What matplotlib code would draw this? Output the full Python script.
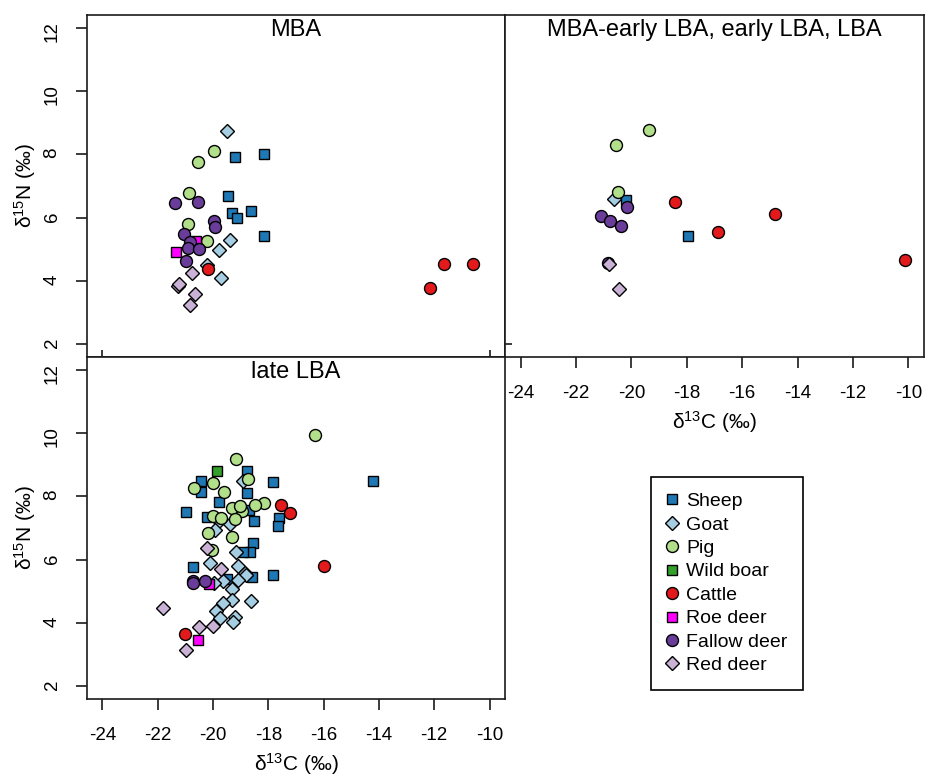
import matplotlib
matplotlib.use('Agg')
import matplotlib.pyplot as plt
from matplotlib.lines import Line2D

plt.rcParams['font.family'] = ['Liberation Sans', 'DejaVu Sans']
plt.rcParams['mathtext.default'] = 'regular'
plt.rcParams['axes.unicode_minus'] = False

species = ['Sheep', 'Goat', 'Pig', 'Wild boar', 'Cattle', 'Roe deer', 'Fallow deer', 'Red deer']
markers = ['s', 'D', 'o', 's', 'o', 's', 'o', 'D']
fills = ['#1F78B4', '#A6CEE3', '#B2DF8A', '#33A02C', '#E31A1C', '#FF00FF', '#6A3D9A', '#CAB2D6']
sizes = {'s': 7.8, 'D': 7.6, 'o': 8.6}

# (d13C, d15N) per species, per period
mba = {
    'Sheep': ([-19.22, -18.14, -19.47, -19.31, -19.14, -18.61, -18.17],
              [7.93, 8.00, 6.70, 6.15, 6.00, 6.21, 5.43]),
    'Goat': ([-19.51, -19.39, -19.80, -20.23, -19.71],
             [8.74, 5.30, 4.98, 4.51, 4.09]),
    'Pig': ([-19.96, -20.53, -20.88, -20.91, -20.23],
            [8.12, 7.76, 6.77, 5.80, 5.27]),
    'Wild boar': ([], []),
    'Cattle': ([-20.17, -11.63, -10.58, -12.17],
               [4.38, 4.55, 4.55, 3.78]),
    'Roe deer': ([-20.62, -21.34], [5.27, 4.91]),
    'Fallow deer': ([-21.38, -20.53, -19.96, -19.92, -21.04, -20.83, -20.92, -20.52, -20.97],
                    [6.47, 6.49, 5.91, 5.71, 5.50, 5.23, 5.04, 5.02, 4.62]),
    'Red deer': ([-20.77, -21.28, -21.22, -20.64, -20.83],
                 [4.25, 3.85, 3.92, 3.60, 3.23]),
}

mid_lba = {
    'Sheep': ([-20.21, -17.94], [6.56, 5.42]),
    'Goat': ([-20.64], [6.58]),
    'Pig': ([-19.35, -20.57, -20.49], [8.77, 8.28, 6.82]),
    'Wild boar': ([], []),
    'Cattle': ([-18.44, -16.89, -14.83, -10.14], [6.50, 5.56, 6.13, 4.65]),
    'Roe deer': ([], []),
    'Fallow deer': ([-20.15, -21.08, -20.78, -20.38, -20.85],
                    [6.35, 6.04, 5.89, 5.75, 4.58]),
    'Red deer': ([-20.82, -20.45], [4.53, 3.74]),
}

late_lba = {
    'Sheep': ([-14.22, -18.79, -17.85, -20.45, -20.43, -18.79, -19.79, -20.98, -18.70,
               -18.52, -17.61, -17.65, -20.23, -18.55, -18.67, -18.91, -20.71, -18.60,
               -17.85, -19.50],
              [8.49, 8.81, 8.44, 8.48, 8.14, 8.10, 7.81, 7.52, 7.58,
               7.21, 7.32, 7.06, 7.35, 6.53, 6.24, 6.25, 5.76, 5.46,
               5.52, 5.40]),
    'Goat': ([-18.93, -19.80, -19.93, -19.37, -19.18, -20.11, -19.09, -18.85, -18.81,
              -19.09, -19.65, -19.97, -19.33, -19.32, -18.61, -19.65, -19.90, -19.75,
              -19.21, -19.27],
             [8.50, 7.21, 6.95, 7.12, 6.23, 5.90, 5.80, 5.59, 5.53,
              5.35, 5.33, 5.25, 5.08, 4.74, 4.69, 4.64, 4.37, 4.17,
              4.20, 4.03]),
    'Pig': ([-16.33, -19.18, -18.75, -20.01, -20.68, -19.60, -18.15, -18.47, -18.94,
             -19.30, -19.03, -19.99, -19.70, -19.22, -20.18, -19.32, -20.05],
            [9.94, 9.19, 8.56, 8.42, 8.27, 8.13, 7.79, 7.74, 7.54,
             7.64, 7.71, 7.38, 7.32, 7.28, 6.85, 6.72, 6.32]),
    'Wild boar': ([-19.85], [8.81]),
    'Cattle': ([-17.56, -17.22, -16.00, -21.01], [7.72, 7.47, 5.80, 3.64]),
    'Roe deer': ([-20.14, -20.53], [5.22, 3.46]),
    'Fallow deer': ([-20.74, -20.71, -20.29], [5.32, 5.25, 5.34]),
    'Red deer': ([-20.23, -19.73, -21.82, -20.01, -20.51, -20.99],
                 [6.37, 5.69, 4.48, 3.92, 3.88, 3.15]),
}

x_ticks = [-24, -22, -20, -18, -16, -14, -12, -10]
y_ticks = [2, 4, 6, 8, 10, 12]
x_label = r'δ$^{13}$C (‰)'
y_label = r'δ$^{15}$N (‰)'

W, H = 925, 777
fig = plt.figure(figsize=(W / 100, H / 100), dpi=100)


def add_panel(left, top, right, bottom):
    ax = fig.add_axes([left / W, 1 - bottom / H, (right - left) / W, (bottom - top) / H])
    ax.set_xlim(-24.56, -9.44)
    ax.set_ylim(1.6, 12.4)
    for s in ax.spines.values():
        s.set_linewidth(1.2)
        s.set_color('#1a1a1a')
    ax.tick_params(length=8, width=1.2, color='#1a1a1a', labelsize=13.5)
    ax.tick_params(axis='x', pad=12)
    ax.tick_params(axis='y', labelrotation=90, pad=11)
    return ax


def draw_points(ax, data, title):
    for name, mk, fc in zip(species, markers, fills):
        xs, ys = data[name]
        ax.plot(xs, ys, ls='none', marker=mk, ms=sizes[mk], mfc=fc,
                mec='black', mew=1.0)
    ax.text(0.5, 1 - 15 / 342, title, transform=ax.transAxes,
            ha='center', va='center', fontsize=17)


ax1 = add_panel(87, 15, 505, 357)
ax2 = add_panel(505, 15, 924, 357)
ax3 = add_panel(87, 357, 505, 699)

draw_points(ax1, mba, 'MBA')
draw_points(ax2, mid_lba, 'MBA-early LBA, early LBA, LBA')
draw_points(ax3, late_lba, 'late LBA')

# top left: y axis labelled, only short inner ticks on the bottom edge
ax1.set_yticks(y_ticks)
ax1.set_xticks([-24, -10])
ax1.tick_params(axis='x', direction='in', length=5, labelbottom=False)
ax1.set_ylabel(y_label, fontsize=15, labelpad=4)

# top right: x axis labelled, no y labels
ax2.set_xticks(x_ticks)
ax2.set_yticks([2])
ax2.tick_params(axis='y', direction='in', length=5, labelleft=False)
ax2.set_xlabel(x_label, fontsize=15, labelpad=5)

# bottom left: both axes labelled
ax3.set_xticks(x_ticks)
ax3.set_yticks(y_ticks)
ax3.set_xlabel(x_label, fontsize=15, labelpad=5)
ax3.set_ylabel(y_label, fontsize=15, labelpad=4)

handles = [Line2D([], [], ls='none', marker=mk, ms=sizes[mk], mfc=fc, mec='black', mew=1.0)
           for mk, fc in zip(markers, fills)]
leg = fig.legend(handles, species, loc='upper left', bbox_to_anchor=(651 / W, 1 - 477 / H),
                 frameon=True, fancybox=False, edgecolor='black', framealpha=1,
                 fontsize=14, labelspacing=0.3, handlelength=0.6, handletextpad=0.4,
                 borderpad=0.8, borderaxespad=0)
leg.get_frame().set_linewidth(1.2)

fig.savefig('out.png', dpi=100)
